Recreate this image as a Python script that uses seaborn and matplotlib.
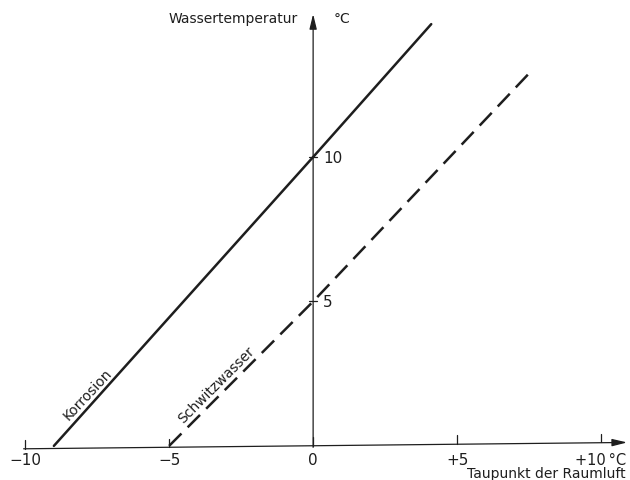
import matplotlib
matplotlib.use("Agg")
import matplotlib.pyplot as plt
import seaborn as sns
import pandas as pd
import numpy as np

# data
korrosion_x = [-9.0, 0.0, 4.1]
korrosion_y = [0.0, 10.0, 14.6]
schwitz_x = [-5.0, 0.0, 7.5]
schwitz_y = [0.0, 5.0, 12.9]
x_ticks = [-10, -5, 0, 5, 10]
x_tick_labels = ["\u221210", "\u22125", "0", "+5", "+10\u2009\u00b0C"]
y_ticks = [5, 10]
y_tick_labels = ["5", "10"]

sns.set_style("white")
plt.rcParams['font.family'] = ['DejaVu Sans']

fig = plt.figure(figsize=(6.3, 4.81), dpi=100)
ax = fig.add_axes([0, 0, 1, 1])
ax.set_xlim(-10.87, 11.0)
ax.set_ylim(-1.18, 15.47)
ax.axis("off")

ink = "#1e1e1e"

df_k = pd.DataFrame({"x": korrosion_x, "y": korrosion_y})
df_s = pd.DataFrame({"x": schwitz_x, "y": schwitz_y})
sns.lineplot(data=df_k, x="x", y="y", ax=ax, color=ink, lw=1.8, sort=False)
sns.lineplot(data=df_s, x="x", y="y", ax=ax, color=ink, lw=1.8, sort=False)
ax.lines[-1].set_dashes([7, 3.5])

# axes with arrows
ax.annotate("", xy=(10.9, 0.12), xytext=(-10.05, -0.1),
            arrowprops=dict(arrowstyle="-|>,head_length=0.9,head_width=0.22",
                            color=ink, lw=0.9, shrinkA=0, shrinkB=0))
ax.annotate("", xy=(0, 14.95), xytext=(0, -0.05),
            arrowprops=dict(arrowstyle="-|>,head_length=0.9,head_width=0.22",
                            color=ink, lw=0.9, shrinkA=0, shrinkB=0))

# x ticks
for xt, lab in zip(x_ticks, x_tick_labels):
    base = -0.1 + 0.011 * (xt + 10)
    ax.plot([xt, xt], [base, base + 0.3], color=ink, lw=0.9)
    if xt == x_ticks[-1]:
        ax.text(10.88, -0.22, lab, ha="right", va="top", fontsize=10.5, color=ink)
    else:
        ax.text(xt, -0.22, lab, ha="center", va="top", fontsize=11, color=ink)

# y ticks
for yt, lab in zip(y_ticks, y_tick_labels):
    ax.plot([-0.15, 0.15], [yt, yt], color=ink, lw=0.9)
    ax.text(0.35, yt, lab, ha="left", va="center", fontsize=11, color=ink)

ax.text(-0.55, 14.8, "Wassertemperatur", ha="right", va="center", fontsize=10, color=ink)
ax.text(0.7, 14.8, "\u00b0C", ha="left", va="center", fontsize=10, color=ink)
ax.text(10.85, -0.95, "Taupunkt der Raumluft", ha="right", va="center", fontsize=10, color=ink)

# labels along the lines
def along(x0, y0, slope, dist, off):
    u = np.array([1.0, slope]) / np.hypot(1.0, slope)
    n = np.array([-u[1], u[0]])
    return np.array([x0, y0]) + dist * u + off * n

pk = along(korrosion_x[0], korrosion_y[0], 10 / 9, 2.13, 0.2)
ax.text(pk[0], pk[1], "Korrosion", rotation=47, ha="center", va="baseline",
        fontsize=10, color=ink, rotation_mode="anchor")
ps = along(schwitz_x[0], schwitz_y[0], 1.0, 2.67, 0.2)
ax.text(ps[0], ps[1], "Schwitzwasser", rotation=45, ha="center", va="baseline",
        fontsize=10, color=ink, rotation_mode="anchor")

fig.savefig("out.png", dpi=100)
